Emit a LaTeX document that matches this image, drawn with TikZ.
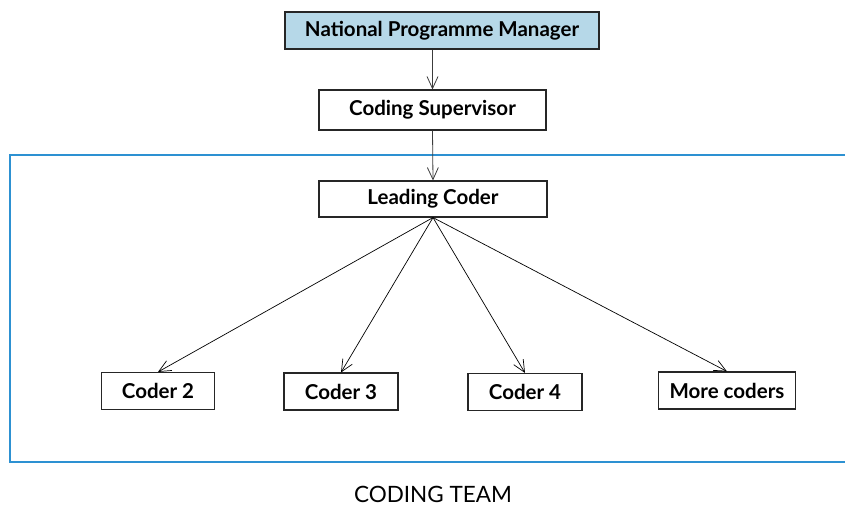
\documentclass[tikz,border=0pt]{standalone}
\usepackage{fontspec}
\setmainfont{Lato}
\usetikzlibrary{arrows.meta,positioning}
\definecolor{headblue}{RGB}{182,216,232}
\definecolor{teamblue}{RGB}{45,145,210}
\definecolor{linkgrey}{RGB}{60,60,60}
\tikzset{
  base/.style={font=\fontsize{20.5}{24}\selectfont\bfseries, align=center, inner sep=2pt, text=black},
  box/.style={base, rectangle, draw=black!85, fill=white, line width=1.1pt, minimum height=37pt},
  head/.style={box, fill=headblue},
  arr/.style={-{Straight Barb[length=12pt,width=11pt]}, line width=0.8pt, draw=linkgrey},
  team/.style={draw=teamblue, line width=1.3pt},
  teamlabel/.style={font=\fontsize{22.5}{26}\selectfont},
}

\begin{document}
\begin{tikzpicture}[x=1pt,y=-1pt]
  \useasboundingbox (0,0) rectangle (845,507);
  % coding team frame, open to the right
  \draw[team] (845,155) -- (10,155) -- (10,462) -- (845,462);
  \node[teamlabel] (teamlbl) at (433,494) {CODING TEAM};
  % management line
  \node[head,minimum width=314pt] (npm) at (442,30.5) {National Programme Manager};
  \node[box,minimum width=227pt,minimum height=40pt] (sup) at (432.5,110) {Coding Supervisor};
  \node[box,minimum width=228pt,minimum height=36pt] (lead) at (433,199) {Leading Coder};
  \draw[arr] (npm.south -| sup.north) -- (sup.north);
  \draw[arr] (sup.south) -- (lead.north);
  % coders
  \node[box,minimum width=113pt] (c2) at (158,391) {Coder 2};
  \node[box,minimum width=114pt] (c3) at (341,391.5) {Coder 3};
  \node[box,minimum width=114pt] (c4) at (525,392) {Coder 4};
  \node[box,minimum width=137pt] (more) at (727,390.5) {More coders};
  \foreach \c in {c2,c3,c4,more}{\draw[arr,draw=black,line width=0.7pt] (lead.south) -- (\c.north);}
\end{tikzpicture}
\end{document}
